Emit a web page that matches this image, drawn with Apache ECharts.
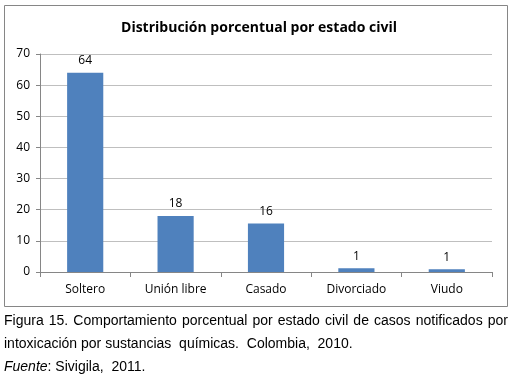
<!DOCTYPE html>
<html>
<head>
<meta charset="utf-8">
<script src="https://cdn.jsdelivr.net/npm/echarts@6/dist/echarts.min.js"></script>
<style>
  body { margin: 0; background: #fff; }
  #chart { position: absolute; left: 0; top: 0; width: 518px; height: 388px; }
  #caption {
    position: absolute; left: 4px; top: 309px; width: 504px;
    font-family: "Liberation Sans", Arial, sans-serif; font-size: 14px;
    line-height: 23px; color: #000;
  }
  #caption .first { text-align: justify; text-align-last: justify; }
  #caption .pre { white-space: pre; }
</style>
</head>
<body>
<div id="chart"></div>
<div id="caption">
  <div class="first">Figura 15. Comportamiento porcentual por estado civil de casos notificados por</div>
  <div class="pre">intoxicación por sustancias  químicas.  Colombia,  2010.</div>
  <div class="pre"><i>Fuente</i>: Sivigila,  2011.</div>
</div>
<script>
	var categories = ['Soltero', 'Unión libre', 'Casado', 'Divorciado', 'Viudo'];
	var values = [64, 18, 15.6, 1.2, 0.9];
	var yTicks = [0, 10, 20, 30, 40, 50, 60, 70];

	var myChart = echarts.init(document.getElementById('chart'));
	var option = {
		animation: false,
		title: {
			text: 'Distribución porcentual por estado civil',
			left: 'center',
			top: 16,
			textStyle: { fontFamily: 'Open Sans', fontWeight: 'bold', fontSize: 14, color: '#000' }
		},
		graphic: [{
			type: 'rect',
			shape: { x: 4.5, y: 5.5, width: 503, height: 301 },
			style: { fill: 'none', stroke: '#868686', lineWidth: 1 },
			silent: true
		}],
		grid: { left: 40, right: 26, top: 54, bottom: 116 },
		xAxis: {
			type: 'category',
			data: categories,
			axisLine: { lineStyle: { color: '#868686' } },
			axisTick: { show: true, length: 5, lineStyle: { color: '#868686' } },
			axisLabel: { fontFamily: 'Open Sans', fontSize: 12, color: '#000', margin: 12 }
		},
		yAxis: {
			type: 'value',
			min: yTicks[0],
			max: yTicks[yTicks.length - 1],
			interval: 10,
			axisLine: { show: true, lineStyle: { color: '#868686' } },
			axisTick: { show: true, length: 4, lineStyle: { color: '#868686' } },
			axisLabel: { fontFamily: 'Open Sans', fontSize: 12, color: '#000', margin: 10 },
			splitLine: { lineStyle: { color: '#bfbfbf' } }
		},
		series: [{
			type: 'bar',
			data: values,
			barWidth: '40%',
			itemStyle: { color: '#4f81bd' },
			label: {
				show: true,
				position: 'top',
				distance: 6,
				fontFamily: 'Open Sans',
				fontSize: 12,
				color: '#000',
				formatter: function(p) { return Math.round(p.value); }
			}
		}]
	};
	myChart.setOption(option);
</script>
</body>
</html>
